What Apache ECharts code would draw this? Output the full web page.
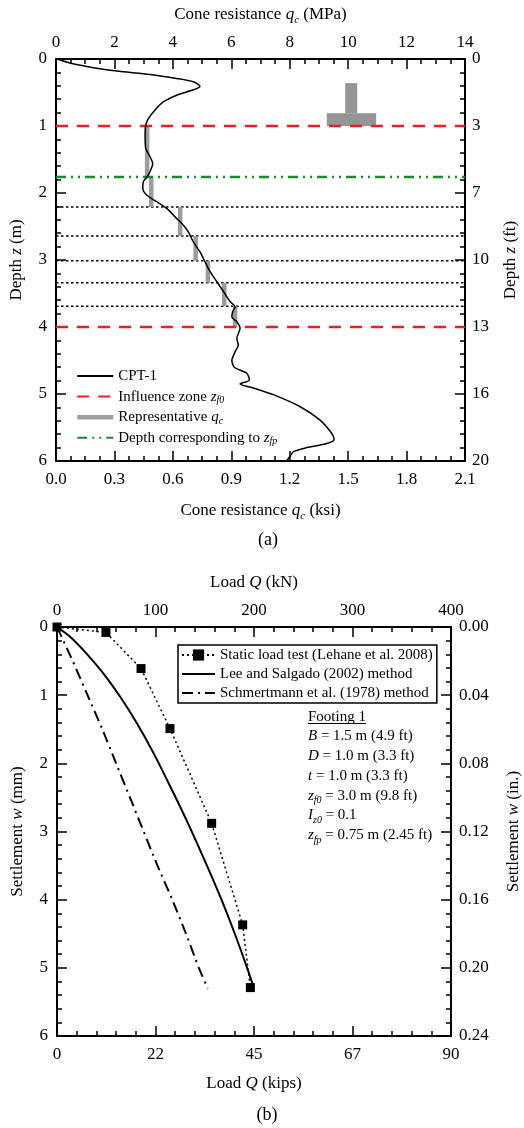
<!DOCTYPE html>
<html>
<head>
<meta charset="utf-8">
<script src="https://cdn.jsdelivr.net/npm/echarts@6/dist/echarts.min.js"></script>
<style>
  html, body { margin: 0; padding: 0; background: #fff; }
  #chart { width: 524px; height: 1128px; }
</style>
</head>
<body>
<div id="chart"></div>
<script>
// ---------- (a) CPT-1 cone resistance profile ----------
const cptDepth = [0.00, 0.06, 0.13, 0.18, 0.23, 0.29, 0.34, 0.41, 0.46, 0.54, 0.64, 0.76, 0.89, 0.99,
  1.13, 1.33, 1.46, 1.56, 1.68, 1.77, 1.83, 1.93, 2.03, 2.13, 2.23, 2.38, 2.48, 2.58, 2.73, 2.88,
  3.00, 3.17, 3.32, 3.47, 3.62, 3.70, 3.77, 3.85, 3.92, 4.02, 4.17, 4.27, 4.37, 4.50, 4.60, 4.69,
  4.79, 4.85, 4.91, 5.01, 5.19, 5.39, 5.59, 5.68, 5.74, 5.80, 5.86, 5.94, 6.00];
const cptQc = [0.05, 0.48, 1.28, 2.08, 3.22, 4.13, 4.70, 4.93, 4.70, 4.13, 3.67, 3.39, 3.16, 3.07,
  3.05, 3.07, 3.22, 3.31, 3.22, 3.10, 2.99, 2.97, 3.10, 3.45, 3.79, 4.13, 4.36, 4.53, 4.70, 4.93,
  5.07, 5.27, 5.50, 5.73, 5.96, 6.13, 6.05, 6.02, 6.19, 6.30, 6.19, 6.24, 6.13, 6.02, 6.10, 6.53,
  6.62, 6.30, 6.76, 7.44, 8.36, 9.04, 9.44, 9.52, 9.27, 8.58, 8.13, 7.99, 7.90];

// sublayer boundaries (m) and representative qc of each sublayer (MPa)
const boundaryDepth = [1.00, 1.76, 2.21, 2.64, 3.01, 3.34, 3.69, 4.00];
const repQc = [3.12, 3.26, 4.25, 4.78, 5.20, 5.76, 6.13];
const sublayerNames = ['Sublayer 1', 'Sublayer 2', 'Sublayer 3', 'Sublayer 4', 'Sublayer 5', 'Sublayer 6', 'Sublayer 7'];
const influenceDepth = [1.00, 4.00];   // z_f0 limits
const zfpDepth = [1.76];               // depth corresponding to z_fp
const innerBoundaryDepth = [2.21, 2.64, 3.01, 3.34, 3.69];

// footing sketch: [qcLeft, zTop, qcRight, zBottom] (flange, then stem)
const footingParts = [[9.27, 0.81, 10.96, 1.00], [9.90, 0.36, 10.31, 0.81]];

// ---------- (b) load-settlement curves ----------
const loadTestQ = [0, 49.7, 85.3, 114.7, 157.0, 188.5, 196.3];
const loadTestW = [0, 0.08, 0.61, 1.49, 2.88, 4.37, 5.29];
const leeQ = [0, 13, 30, 47, 64, 81, 98, 115, 133, 151, 167, 180.5, 193, 200];
const leeW = [0, 0.14, 0.39, 0.68, 1.02, 1.41, 1.85, 2.34, 2.88, 3.46, 4.00, 4.50, 5.00, 5.30];
const schQ = [0, 16, 31, 46, 60, 74, 88, 102, 117, 131, 144, 153];
const schW = [0, 0.5, 1.0, 1.5, 2.0, 2.5, 3.0, 3.5, 4.0, 4.5, 5.0, 5.3];

const footingLines = [
  '{u|Footing 1}',
  '{i|B} = 1.5 m (4.9 ft)',
  '{i|D} = 1.0 m (3.3 ft)',
  '{i|t} = 1.0 m (3.3 ft)',
  '{i|z}{s|f0} = 3.0 m (9.8 ft)',
  '{i|I}{s|z0} = 0.1',
  '{i|z}{s|fp} = 0.75 m (2.45 ft)'
];

// ---------- styling helpers ----------
const SERIF = '"Liberation Serif", "Times New Roman", serif';
const QC_MAX = 14, Z_MAX = 6, Q_MAX = 400, W_MAX = 6;
const SUBLAYER_LABEL_QC = 9.0;
const GRAY = '#9c9c9c';

function richSet(size, lh) {
  return {
    i: { fontFamily: SERIF, fontSize: size, fontStyle: 'italic', color: '#000', lineHeight: lh },
    s: { fontFamily: SERIF, fontSize: Math.round(size * 0.65), fontStyle: 'italic', color: '#000',
         lineHeight: Math.round(size * 0.65), verticalAlign: 'bottom' },
    u: { fontFamily: SERIF, fontSize: size, color: '#000', lineHeight: lh }
  };
}

function axis(o) {
  return Object.assign({
    type: 'value',
    axisLine: { show: true, onZero: false, lineStyle: { color: '#000', width: 2 } },
    axisTick: { show: true, inside: true, length: 10, lineStyle: { color: '#000', width: 1.5 } },
    minorTick: { show: true, splitNumber: 5, length: 5, lineStyle: { color: '#000', width: 1.5 } },
    splitLine: { show: false },
    axisLabel: { fontFamily: SERIF, fontSize: 17, color: '#000', margin: 8 },
    nameLocation: 'middle',
    nameTextStyle: { fontFamily: SERIF, fontSize: 17, color: '#000', lineHeight: 22, rich: richSet(17, 22) }
  }, o);
}

function hSegments(depths, x0, x1) {
  const d = [];
  depths.forEach((z, k) => { if (k) d.push(['-', '-']); d.push([x0, z], [x1, z]); });
  return d;
}

const repBars = [];
repQc.forEach((q, k) => {
  if (k) repBars.push(['-', '-']);
  repBars.push([q, boundaryDepth[k]], [q, boundaryDepth[k + 1]]);
});

const sublayerLabels = sublayerNames.map((n, k) =>
  [SUBLAYER_LABEL_QC, (boundaryDepth[k] + boundaryDepth[k + 1]) / 2, n]);

const legendNamesA = {
  'CPT-1': 'CPT-1',
  'Influence zone': 'Influence zone {i|z}{s|f0}',
  'Representative qc': 'Representative {i|q}{s|c}',
  'Depth corresponding to zfp': 'Depth corresponding to {i|z}{s|fp}'
};

// legend entries that show a line sample only (no marker)
const lineOnly = (name, extra) => Object.assign({ name, itemStyle: { opacity: 0 } }, extra || {});

const chart = echarts.init(document.getElementById('chart'), null, { renderer: 'canvas' });

const option = {
  animation: false,
  backgroundColor: '#fff',
  grid: [
    { left: 56, top: 59, width: 409, height: 402, outerBoundsMode: 'none', containLabel: false },
    { left: 57, top: 627, width: 394, height: 409, outerBoundsMode: 'none', containLabel: false }
  ],
  xAxis: [
    axis({ gridIndex: 0, position: 'top', min: 0, max: QC_MAX, interval: 2,
      name: 'Cone resistance {i|q}{s|c} (MPa)', nameGap: 33,
      minorTick: { show: true, splitNumber: 4, length: 5, lineStyle: { color: '#000', width: 1.5 } } }),
    axis({ gridIndex: 0, position: 'bottom', min: 0, max: QC_MAX, interval: 2,
      name: 'Cone resistance {i|q}{s|c} (ksi)', nameGap: 39,
      minorTick: { show: true, splitNumber: 4, length: 5, lineStyle: { color: '#000', width: 1.5 } },
      axisLabel: { fontFamily: SERIF, fontSize: 17, color: '#000', margin: 10,
        formatter: v => (v / 2 * 0.3).toFixed(1) } }),
    axis({ gridIndex: 1, position: 'top', min: 0, max: Q_MAX, interval: 100,
      name: 'Load {i|Q} (kN)', nameGap: 33 }),
    axis({ gridIndex: 1, position: 'bottom', min: 0, max: Q_MAX, interval: 100,
      name: 'Load {i|Q} (kips)', nameGap: 37,
      axisLabel: { fontFamily: SERIF, fontSize: 17, color: '#000', margin: 10,
        formatter: v => String(Math.round(v * 0.224809)) } })
  ],
  yAxis: [
    axis({ gridIndex: 0, position: 'left', min: 0, max: Z_MAX, interval: 1, inverse: true,
      name: 'Depth {i|z} (m)', nameGap: 27, nameRotate: 90,
      axisLabel: { fontFamily: SERIF, fontSize: 17, color: '#000', margin: 9 } }),
    axis({ gridIndex: 0, position: 'right', min: 0, max: Z_MAX, interval: 1, inverse: true,
      name: 'Depth {i|z} (ft)', nameGap: 34, nameRotate: 90,
      axisLabel: { fontFamily: SERIF, fontSize: 17, color: '#000', margin: 7,
        formatter: v => String(Math.round(v * 3.28084)) } }),
    axis({ gridIndex: 1, position: 'left', min: 0, max: W_MAX, interval: 1, inverse: true,
      name: 'Settlement {i|w} (mm)', nameGap: 27, nameRotate: 90,
      axisLabel: { fontFamily: SERIF, fontSize: 17, color: '#000', margin: 9 } }),
    axis({ gridIndex: 1, position: 'right', min: 0, max: 0.24, interval: 0.04, inverse: true,
      name: 'Settlement {i|w} (in.)', nameGap: 52, nameRotate: 90,
      axisLabel: { fontFamily: SERIF, fontSize: 17, color: '#000', margin: 8,
        formatter: v => v.toFixed(2) } })
  ],
  legend: [
    {
      orient: 'vertical', left: 75, top: 367, itemWidth: 36, itemHeight: 14, itemGap: 2.6,
      selectedMode: false, padding: 0,
      data: [
        lineOnly('CPT-1'),
        lineOnly('Influence zone'),
        lineOnly('Representative qc', { lineStyle: { width: 4.5, color: GRAY } }),
        lineOnly('Depth corresponding to zfp')
      ],
      formatter: n => legendNamesA[n],
      textStyle: { fontFamily: SERIF, fontSize: 15, color: '#000', lineHeight: 18, rich: richSet(15, 18) }
    },
    {
      orient: 'vertical', left: 178, top: 645, itemWidth: 33, itemHeight: 14, itemGap: 3,
      selectedMode: false, padding: [2, 4, 2, 3], borderColor: '#000', borderWidth: 1.5,
      data: ['Static load test (Lehane et al. 2008)',
        lineOnly('Lee and Salgado (2002) method'), lineOnly('Schmertmann et al. (1978) method')],
      textStyle: { fontFamily: SERIF, fontSize: 15, color: '#000', lineHeight: 16 }
    }
  ],
  series: [
    {
      name: 'Footing', type: 'custom', xAxisIndex: 0, yAxisIndex: 0, silent: true,
      encode: { x: [0, 2], y: [1, 3] },
      data: footingParts,
      renderItem: (params, api) => {
        const p0 = api.coord([api.value(0), api.value(1)]);
        const p1 = api.coord([api.value(2), api.value(3)]);
        return { type: 'rect', shape: { x: p0[0], y: p0[1], width: p1[0] - p0[0], height: p1[1] - p0[1] },
          style: { fill: '#959595' } };
      }
    },
    {
      name: 'Sublayer boundary', type: 'line', xAxisIndex: 0, yAxisIndex: 0, symbol: 'none', silent: true,
      data: hSegments(innerBoundaryDepth, 0, QC_MAX),
      lineStyle: { color: '#000', width: 1.5, type: [2.5, 2.5] }
    },
    {
      name: 'Representative qc', type: 'line', xAxisIndex: 0, yAxisIndex: 0, symbol: 'none', silent: true,
      data: repBars,
      lineStyle: { color: GRAY, width: 4.5 }, itemStyle: { color: GRAY }
    },
    {
      name: 'Influence zone', type: 'line', xAxisIndex: 0, yAxisIndex: 0, symbol: 'none', silent: true,
      data: hSegments(influenceDepth, 0, QC_MAX),
      lineStyle: { color: '#ee1c25', width: 2.5, type: [12, 9] }, itemStyle: { color: '#ee1c25' }
    },
    {
      name: 'Depth corresponding to zfp', type: 'line', xAxisIndex: 0, yAxisIndex: 0, symbol: 'none', silent: true,
      data: hSegments(zfpDepth, 0, QC_MAX),
      lineStyle: { color: '#1a8a2a', width: 2.5, type: [10, 5, 2, 5, 2, 5] }, itemStyle: { color: '#1a8a2a' }
    },
    {
      name: 'CPT-1', type: 'line', xAxisIndex: 0, yAxisIndex: 0, symbol: 'none', silent: true, smooth: 0.25,
      data: cptDepth.map((z, k) => [cptQc[k], z]),
      lineStyle: { color: '#000', width: 1.5 }, itemStyle: { color: '#000' }
    },
    {
      name: 'Sublayer labels', type: 'scatter', xAxisIndex: 0, yAxisIndex: 0, silent: true,
      symbolSize: 1, itemStyle: { opacity: 0 },
      data: sublayerLabels,
      label: { show: true, position: 'right', distance: 0, formatter: p => p.value[2],
        fontFamily: SERIF, fontSize: 15, color: '#000' }
    },
    {
      name: 'Schmertmann et al. (1978) method', type: 'line', xAxisIndex: 2, yAxisIndex: 2, symbol: 'none',
      silent: true, smooth: 0.2,
      data: schQ.map((q, k) => [q, schW[k]]),
      lineStyle: { color: '#000', width: 2, type: [11, 5, 2, 5] }, itemStyle: { color: '#000' }
    },
    {
      name: 'Lee and Salgado (2002) method', type: 'line', xAxisIndex: 2, yAxisIndex: 2, symbol: 'none',
      silent: true, smooth: 0.3,
      data: leeQ.map((q, k) => [q, leeW[k]]),
      lineStyle: { color: '#000', width: 2 }, itemStyle: { color: '#000' }
    },
    {
      name: 'Static load test (Lehane et al. 2008)', type: 'line', xAxisIndex: 2, yAxisIndex: 2,
      symbol: 'rect', symbolSize: 9, silent: true,
      data: loadTestQ.map((q, k) => [q, loadTestW[k]]),
      lineStyle: { color: '#000', width: 1.5, type: [2, 3] }, itemStyle: { color: '#000' }
    }
  ],
  graphic: [
    { type: 'text', x: 268, y: 540, silent: true,
      style: { text: '(a)', fontFamily: SERIF, fontSize: 18, fill: '#000', align: 'center', verticalAlign: 'middle' } },
    { type: 'text', x: 267, y: 1115, silent: true,
      style: { text: '(b)', fontFamily: SERIF, fontSize: 18, fill: '#000', align: 'center', verticalAlign: 'middle' } },
    { type: 'text', x: 308, y: 707, silent: true,
      style: { text: footingLines.join('\n'), fontFamily: SERIF, fontSize: 15, fill: '#000',
        lineHeight: 19.7, align: 'left', verticalAlign: 'top', rich: richSet(15, 19.7) } },
    { type: 'line', silent: true, shape: { x1: 308, y1: 723.5, x2: 366, y2: 723.5 },
      style: { stroke: '#000', lineWidth: 1 } }
  ]
};

chart.setOption(option);
</script>
</body>
</html>
